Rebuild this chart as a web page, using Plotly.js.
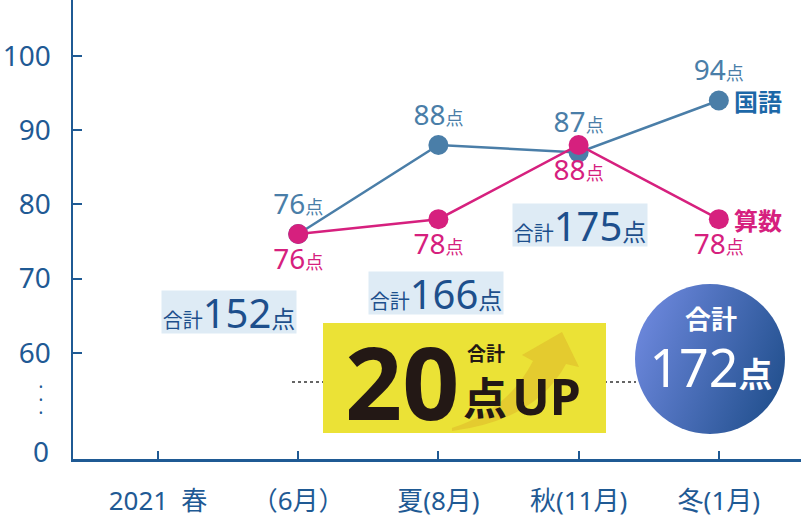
<!DOCTYPE html>
<html>
<head>
<meta charset="utf-8">
<script src="https://cdn.plot.ly/plotly-3.0.1.min.js"></script>
<style>
  html, body { margin: 0; padding: 0; background: #ffffff; }
  #chart { width: 801px; height: 518px; }
</style>
</head>
<body>
<div id="chart"></div>
<script>
// Term labels along the bottom axis
const categories = ['2021\u2002春', '（6月）', '夏(8月)', '秋(11月)', '冬(1月)'];
// Scores per term (no test in the first term)
const kokugo = [null, 76, 88, 87, 94];
const sansu  = [null, 76, 78, 88, 78];
const seriesNames = ['国語', '算数'];
// Visible score ticks on the broken axis
const yTickVals = [60, 70, 80, 90, 100];
const yTickText = ['60', '70', '80', '90', '100'];
const zeroLabel = '0';
const unit = '点';
const totalWord = '合計';
const upWord = 'UP';

const FONT = '"Noto Sans", "Noto Sans CJK JP", sans-serif';
const CJK = '"Noto Sans CJK JP", "Noto Sans", sans-serif';
const AXIS = '#1f5a94';
const BLUE = '#4a7ea8';
const PINK = '#d6207e';
const NAVY = '#1d4f8c';

// Plot area in page pixels
const W = 801, H = 518;
const M = { l: 73, r: 0, t: 0, b: 59 };
const PW = W - M.l - M.r, PH = H - M.t - M.b;
const px = x => (x - M.l) / PW;          // page x -> paper x
const py = y => (M.t + PH - y) / PH;     // page y -> paper y

const totals = kokugo.map((v, i) => (v == null || sansu[i] == null) ? null : v + sansu[i]);
const firstTotal = totals.find(t => t != null);
const lastTotal = totals[totals.length - 1];
const gain = lastTotal - firstTotal;

const label = (v, big, small) =>
  v == null ? '' : `<span style="font-size:${big}px">${v}</span><span style="font-size:${small}px">${unit}</span>`;

const traces = [
  {
    x: categories, y: kokugo, name: seriesNames[0], type: 'scatter', mode: 'lines+markers+text',
    line: { color: BLUE, width: 2.5 },
    marker: { color: BLUE, size: 20 },
    text: kokugo.map(v => label(v, 28, 18)),
    textposition: 'top center',
    textfont: { family: FONT, size: 28, color: BLUE },
    cliponaxis: false, hoverinfo: 'skip'
  },
  {
    x: categories, y: sansu, name: seriesNames[1], type: 'scatter', mode: 'lines+markers+text',
    line: { color: PINK, width: 2.5 },
    marker: { color: PINK, size: 20 },
    text: sansu.map(v => label(v, 28, 18)),
    textposition: 'bottom center',
    textfont: { family: FONT, size: 28, color: PINK },
    cliponaxis: false, hoverinfo: 'skip'
  }
];

// Boxed running totals, one per term; placement of each box
const totalBoxes = [
  { i: 1, x: 0.51, y: 65.5 },
  { i: 2, x: 1.98, y: 68.0 },
  { i: 3, x: 3.01, y: 77.2 }
];

const annotations = [];
totalBoxes.forEach(b => {
  annotations.push({
    xref: 'x', yref: 'y', x: b.x, y: b.y, showarrow: false,
    text: `<span style="font-size:20px">${totalWord}</span><span style="font-size:40px">${totals[b.i]}</span><span style="font-size:24px">${unit}</span>`,
    font: { family: FONT, size: 40, color: NAVY },
    bgcolor: '#deebf5', borderpad: 0, width: 134, height: 42,
    xanchor: 'center', yanchor: 'middle'
  });
});

// Series names next to the last points
annotations.push(
  { xref: 'x', yref: 'y', x: 4, y: kokugo[4], xanchor: 'left', yanchor: 'middle', xshift: 13, showarrow: false,
    text: `<b>${seriesNames[0]}</b>`, font: { family: CJK, size: 24, color: '#1d68a8' } },
  { xref: 'x', yref: 'y', x: 4, y: sansu[4], xanchor: 'left', yanchor: 'middle', xshift: 13, showarrow: false,
    text: `<b>${seriesNames[1]}</b>`, font: { family: CJK, size: 24, color: PINK } }
);

// Axis break: "0" and a vertical dotted ellipsis under 60
annotations.push(
  { xref: 'paper', yref: 'paper', x: 0, y: py(451), xanchor: 'right', yanchor: 'middle', xshift: -22, showarrow: false,
    text: zeroLabel, font: { family: FONT, size: 28, color: AXIS } },
  { xref: 'paper', yref: 'paper', x: 0, y: py(400), xanchor: 'center', yanchor: 'middle', xshift: -32, showarrow: false,
    text: '•<br>•<br>•', font: { family: FONT, size: 10, color: AXIS } }
);

// Gain badge text
annotations.push(
  { xref: 'paper', yref: 'paper', x: px(402), y: py(381), xanchor: 'center', yanchor: 'middle', showarrow: false,
    text: `<b>${gain}</b>`, font: { family: FONT, size: 100, color: '#231815' } },
  { xref: 'paper', yref: 'paper', x: px(486), y: py(352), xanchor: 'center', yanchor: 'middle', showarrow: false,
    text: `<b>${totalWord}</b>`, font: { family: CJK, size: 19, color: '#231815' } },
  { xref: 'paper', yref: 'paper', x: px(485), y: py(396), xanchor: 'center', yanchor: 'middle', showarrow: false,
    text: `<b>${unit}</b>`, font: { family: CJK, size: 44, color: '#231815' } },
  { xref: 'paper', yref: 'paper', x: px(546), y: py(396), xanchor: 'center', yanchor: 'middle', showarrow: false,
    text: `<b>${upWord}</b>`, font: { family: FONT, size: 50, color: '#231815' } }
);

// Final total in the round badge
annotations.push(
  { xref: 'paper', yref: 'paper', x: px(711), y: py(317), xanchor: 'center', yanchor: 'middle', showarrow: false,
    text: `<b>${totalWord}</b>`, font: { family: CJK, size: 26, color: '#ffffff' } },
  { xref: 'paper', yref: 'paper', x: px(711), y: py(366), xanchor: 'center', yanchor: 'middle', showarrow: false,
    width: 130, height: 54,
    text: `<span style="font-size:52px">${lastTotal}</span><span style="font-size:34px"><b>${unit}</b></span>`,
    font: { family: FONT, size: 52, color: '#ffffff' } }
);

// Curved arrow inside the gain badge (page pixels -> paper)
const arrowPts = [
  ['M', 452, 428], ['Q', 508, 410, 533, 361], ['L', 522, 355], ['L', 562, 332], ['L', 579, 367],
  ['L', 566, 364], ['Q', 536, 420, 452, 431]
];
const arrowPath = arrowPts.map(p => {
  const c = p[0];
  const nums = [];
  for (let k = 1; k < p.length; k += 2) nums.push(px(p[k]).toFixed(4) + ',' + py(p[k + 1]).toFixed(4));
  return c + nums.join(' ');
}).join(' ') + ' Z';

const shapes = [
  { type: 'line', xref: 'paper', yref: 'paper', x0: px(292), x1: px(636), y0: py(382), y1: py(382),
    line: { color: '#333333', width: 1.5, dash: 'dot' } },
  { type: 'rect', xref: 'paper', yref: 'paper', x0: px(323), x1: px(606), y0: py(433), y1: py(323),
    fillcolor: '#ebe236', line: { width: 0 } },
  { type: 'path', xref: 'paper', yref: 'paper', path: arrowPath,
    fillcolor: 'rgba(222,180,40,0.5)', line: { width: 0 } }
];

// Gradient disc for the final total
const R = 75;
const discSvg = `<svg xmlns='http://www.w3.org/2000/svg' width='${2 * R}' height='${2 * R}'>` +
  `<defs><linearGradient id='g' x1='0' y1='0.3' x2='1' y2='0.7'>` +
  `<stop offset='0' stop-color='#6c87dc'/><stop offset='1' stop-color='#22508e'/></linearGradient></defs>` +
  `<circle cx='${R}' cy='${R}' r='${R}' fill='url(#g)'/></svg>`;
const images = [{
  source: 'data:image/svg+xml;charset=utf-8,' + encodeURIComponent(discSvg),
  xref: 'paper', yref: 'paper', x: px(710 - R), y: py(359 - R), sizex: 2 * R / PW, sizey: 2 * R / PH,
  xanchor: 'left', yanchor: 'top', sizing: 'stretch', layer: 'above'
}];

const layout = {
  width: W, height: H, margin: M,
  paper_bgcolor: '#ffffff', plot_bgcolor: '#ffffff',
  showlegend: false,
  font: { family: FONT, color: AXIS },
  xaxis: {
    type: 'category', categoryorder: 'array', categoryarray: categories,
    range: [-0.606, 4.586], fixedrange: true,
    showgrid: false, zeroline: false,
    showline: true, linecolor: AXIS, linewidth: 2.5,
    ticks: 'inside', ticklen: 8, tickwidth: 2, tickcolor: AXIS,
    tickfont: { family: FONT, size: 26, color: AXIS },
    ticklabelstandoff: 17
  },
  yaxis: {
    range: [45.67, 107.55], fixedrange: true,
    tickmode: 'array', tickvals: yTickVals, ticktext: yTickText,
    showgrid: false, zeroline: false,
    showline: true, linecolor: AXIS, linewidth: 2.5,
    ticks: 'inside', ticklen: 9, tickwidth: 2, tickcolor: AXIS,
    tickfont: { family: FONT, size: 28, color: AXIS },
    ticklabelstandoff: 14
  },
  annotations, shapes, images
};

Plotly.newPlot('chart', traces, layout, { staticPlot: true, displayModeBar: false });
</script>
</body>
</html>
